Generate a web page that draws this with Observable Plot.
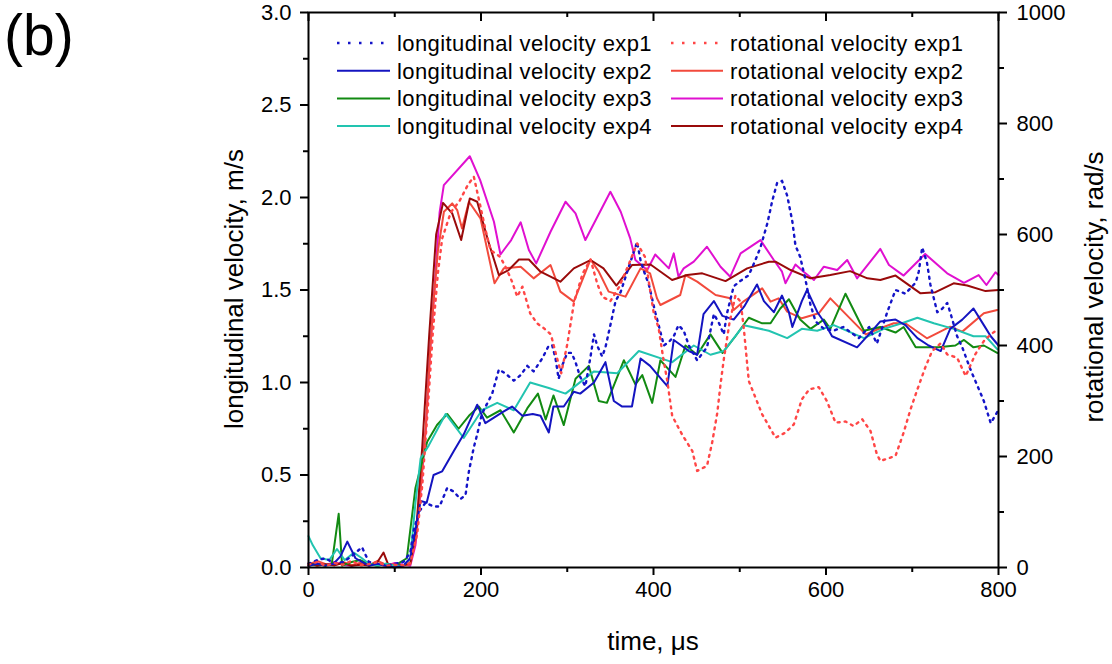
<!DOCTYPE html>
<html><head><meta charset="utf-8">
<script src="https://cdn.jsdelivr.net/npm/d3@7"></script>
<script src="https://cdn.jsdelivr.net/npm/@observablehq/plot@0.6"></script>
<style>
body{margin:0;background:#fff;}
#wrap{position:relative;width:1112px;height:664px;font-family:"Liberation Sans",Arial,sans-serif;color:#000;}
#wrap svg{position:absolute;left:0;top:0;}
.ttl{position:absolute;font-size:26px;white-space:nowrap;line-height:1;}
</style></head><body><div id="wrap"></div>
<script>
// ---- data: [time (µs), value] ----
// longitudinal velocity (m/s)
const long1 = [[0,0.02],[10,0.04],[20,0.05],[30,0.02],[40,0.03],[50,0.06],[62,0.11],[70,0.03],[80,0.02],[90,0.01],[100,0.02],[110,0.03],[118,0.08],[122,0.2],[128,0.3],[135.6,0.35],[145,0.33],[152,0.33],[160.8,0.43],[168.5,0.41],[176,0.37],[182,0.39],[186,0.52],[191.7,0.65],[195.6,0.72],[201,0.83],[213,0.94],[220.7,1.07],[228,1.05],[238,1.01],[246,1.04],[253.6,1.09],[261,1.06],[271,1.13],[278.6,1.20],[282.6,1.20],[286.4,1.13],[290,1.02],[294,1.09],[300,1.16],[305,1.16],[309.6,1.11],[315,1.03],[321,0.98],[327,1.14],[331,1.26],[334.7,1.20],[340.5,1.14],[344.3,1.19],[350,1.31],[356,1.44],[362,1.49],[371,1.62],[381,1.76],[385,1.66],[389,1.60],[394.6,1.53],[402,1.38],[406,1.31],[412,1.20],[418,1.22],[423.5,1.25],[429,1.31],[435,1.28],[441,1.20],[450.6,1.12],[462,1.19],[470,1.37],[476,1.32],[481.5,1.26],[485,1.37],[493,1.52],[501,1.55],[510.5,1.58],[518,1.66],[524,1.73],[532,1.86],[537.6,1.98],[543.4,2.08],[549,2.09],[555,2.01],[561,1.87],[564.6,1.74],[570,1.68],[576,1.56],[582,1.42],[588,1.33],[597.5,1.29],[609,1.28],[620,1.30],[638,1.24],[650,1.30],[659,1.21],[671,1.38],[680.6,1.50],[692,1.48],[704,1.54],[707.6,1.60],[711.5,1.73],[717,1.65],[721,1.53],[729,1.38],[735,1.40],[740.5,1.43],[744,1.38],[752,1.25],[758,1.19],[767.5,1.07],[773,1.01],[783,0.90],[791,0.78],[798.5,0.84]];
const long2 = [[0,0.01],[10,0.02],[20,0.01],[29,0.02],[37,0.06],[45,0.14],[54.5,0.05],[62,0.03],[70,0.01],[80,0.02],[90,0.01],[100,0.0],[110,0.01],[118,0.05],[124,0.2],[130,0.36],[137,0.35],[145,0.50],[155,0.52],[168.5,0.63],[180,0.72],[195.6,0.88],[205,0.78],[215,0.81],[225,0.84],[236,0.87],[248,0.82],[260,0.83],[269,0.82],[278.6,0.73],[284,0.87],[296,0.87],[307.6,0.95],[315,0.94],[331,1.0],[344.3,1.11],[354,0.90],[363.7,0.87],[375,0.87],[385,1.13],[396,1.09],[416,0.98],[423.5,1.23],[441,1.17],[450.6,1.15],[458,1.37],[470,1.44],[480,1.36],[493,1.34],[505,1.41],[520,1.53],[528,1.44],[539.5,1.38],[549,1.47],[557,1.38],[561,1.30],[572,1.44],[578,1.50],[590,1.38],[597.5,1.33],[607,1.25],[636,1.19],[651.6,1.27],[663,1.33],[680.6,1.34],[692,1.31],[706,1.24],[719,1.20],[733,1.17],[744,1.29],[758,1.34],[771,1.40],[783,1.31],[791,1.25],[800,1.20]];
const long3 = [[0,0.01],[10,0.02],[20,0.01],[27,0.02],[35,0.29],[39,0.01],[50,0.03],[60,0.04],[70,0.02],[80,0.01],[90,0.02],[100,0.01],[114,0.05],[124,0.43],[130,0.54],[137.6,0.68],[149,0.77],[160.8,0.83],[174,0.75],[186,0.82],[197.5,0.87],[207,0.81],[222.6,0.85],[238,0.73],[253.6,0.86],[266,0.94],[275,0.80],[284,0.93],[296,0.77],[309.6,1.02],[325,1.09],[336.6,0.90],[346,0.89],[365.6,1.12],[379,0.99],[387,1.04],[398.5,0.89],[408,1.12],[425.5,1.03],[437,1.20],[450.6,1.15],[466,1.26],[480,1.16],[495,1.25],[510.5,1.35],[526,1.32],[535.7,1.32],[547,1.40],[557,1.45],[570,1.34],[582,1.29],[597.5,1.34],[605,1.29],[622.6,1.48],[644,1.28],[663,1.30],[680.6,1.27],[690,1.30],[704,1.19],[730,1.19],[750,1.20],[760,1.23],[771,1.19],[783,1.20],[798.5,1.16]];
const long4 = [[0,0.17],[5,0.12],[14,0.05],[24,0.04],[33,0.10],[42,0.04],[52.5,0.08],[62,0.05],[70,0.02],[80,0.01],[90,0.02],[100,0.01],[110,0.01],[118,0.05],[124,0.35],[130,0.59],[139.5,0.66],[159,0.83],[180,0.70],[201,0.85],[218.8,0.89],[238,0.85],[257,1.0],[278.6,0.97],[298,0.94],[331,1.06],[358,1.05],[383,1.17],[421.7,1.11],[446.7,1.20],[466,1.15],[481.5,1.17],[504.7,1.31],[533.7,1.28],[555,1.24],[572,1.29],[589.8,1.28],[609,1.31],[644,1.24],[667,1.29],[688,1.32],[706,1.35],[725,1.32],[748,1.29],[771,1.25],[785,1.25],[798.5,1.18]];
// rotational velocity (rad/s)
const rot1 = [[0,5],[10,10],[20,3],[30,8],[40,5],[50,12],[60,4],[70,6],[80,10],[90,3],[100,5],[110,4],[118,8],[126,60],[132,150],[138,280],[144,420],[150,530],[155,593],[165,640],[175,660],[185,690],[191.7,704],[198,660],[205,610],[211,572],[222,560],[229,540],[236,515],[242,488],[248,506],[257,458],[265,440],[273,431],[281,420],[288,378],[293,350],[300,402],[308,479],[318,530],[327,555],[334.7,512],[340.5,488],[350,480],[360,505],[371,545],[381,584],[390,560],[400,461],[406,431],[411,380],[416,336],[421.7,273],[433,240],[445,210],[450.6,174],[462,183],[468,225],[474,279],[477.7,330],[481.5,375],[488,440],[495,490],[501,479],[504.7,431],[510.5,336],[526,276],[541.4,234],[553,243],[562.7,258],[572,303],[580.6,321],[591.6,325],[601,300],[611,261],[622.6,263],[632,255],[642,267],[651.6,246],[659,204],[663,192],[680.6,201],[690,243],[698,285],[706,321],[715,360],[723,390],[733,404],[740.5,384],[752,378],[762,345],[773,384],[783,408],[791,420],[800,430]];
const rot2 = [[0,5],[10,12],[20,6],[30,4],[40,10],[50,4],[60,8],[70,3],[80,12],[90,5],[100,6],[110,3],[118,6],[124,48],[130,144],[136,252],[141,390],[145,479],[150,570],[157,641],[166.6,656],[172.4,644],[178,611],[186,659],[199.4,629],[215.7,512],[226.4,539],[246,542],[261,521],[280.6,545],[292,497],[307.6,479],[327,555],[336.6,533],[348,497],[367.5,488],[385,539],[396,530],[404,485],[408,473],[431,491],[437,527],[450.6,515],[472,491],[489,485],[493,464],[505,480],[526,503],[535.7,479],[545,485],[555,461],[572,449],[591.6,458],[605,485],[646,420],[663,431],[678.6,440],[692,440],[717,413],[744,434],[758,425],[783,458],[798.5,464]];
const rot3 = [[0,3],[10,8],[20,4],[30,10],[40,5],[50,3],[60,8],[70,4],[80,6],[90,3],[100,8],[110,5],[118,3],[124,40],[130,140],[136,250],[141,390],[146,500],[152,640],[156.9,689],[187,741],[199,698],[215,623],[222.6,564],[235,590],[246,622],[255.5,572],[264,548],[280.6,605],[298,659],[309.6,638],[321,590],[350,677],[362,641],[373,593],[379,554],[392.7,536],[402,564],[417.8,539],[423.5,566],[429,524],[435,539],[446.7,551],[462,578],[477.7,542],[489,524],[501,566],[524,590],[539.5,554],[549,533],[553,512],[564.6,546],[574,533],[586,518],[597.5,542],[613,536],[624.6,554],[636,521],[663,574],[673,545],[690,526],[715,565],[740.5,530],[760,513],[777,527],[786,509],[796.5,532],[800,527]];
const rot4 = [[0,8],[10,3],[20,6],[30,4],[40,8],[50,3],[60,5],[70,4],[80,10],[87,27],[93,3],[100,5],[110,4],[118,8],[125,70],[132,220],[140,420],[148,600],[156,657],[166.6,638],[177,590],[187,665],[195.6,659],[208,590],[220.7,527],[232,536],[244,555],[255.5,555],[269,533],[280.6,524],[292,515],[307.6,539],[327,554],[342,539],[357,508],[375,545],[396.5,546],[421.6,518],[439,527],[456.5,530],[483.5,516],[508.6,539],[533.7,551],[541.4,551],[559,536],[582,521],[605,527],[628,534],[648,521],[663,518],[680.6,526],[709.6,494],[727,496],[748,512],[763.7,508],[785,498],[800,500]];

const seriesNames = ["longitudinal velocity exp1","longitudinal velocity exp2","longitudinal velocity exp3","longitudinal velocity exp4","rotational velocity exp1","rotational velocity exp2","rotational velocity exp3","rotational velocity exp4"];
const seriesColors = ["#1414c8","#1414c0","#128a12","#22c4b0","#ff4646","#f24a3c","#e010d0","#990a0a"];
const seriesDotted = [true,false,false,false,true,false,false,false];
const seriesData = [long1,long2,long3,long4,rot1,rot2,rot3,rot4];
const seriesIsRot = [false,false,false,false,true,true,true,true];

// axes ticks
const yMajor = [0,0.5,1,1.5,2,2.5,3];
const yMinor = [0.25,0.75,1.25,1.75,2.25,2.75];
const rMajor = [0,200,400,600,800,1000];
const rMinor = [100,300,500,700,900];
const xMajor = [0,200,400,600,800];
const xMinor = [100,300,500,700];
const rotMax = 1000, longMax = 3;
const k = longMax / rotMax; // rad/s -> left-axis units

const W = 1112, H = 664;
const mL = 308, mR = 114, mT = 12, mB = 97;

const rows = [];
seriesData.forEach((arr, i) => arr.forEach(([t, v]) => rows.push({t, v: seriesIsRot[i] ? v * k : v, s: i})));

const lineMarks = seriesNames.map((name, i) => Plot.line(rows.filter(d => d.s === i), {
  x: "t", y: "v", stroke: seriesColors[i], strokeWidth: seriesDotted[i] ? 2.4 : 2,
  strokeDasharray: seriesDotted[i] ? "2,5" : null, strokeLinejoin: "round"
}));
const order = [6,5,7,2,3,1,0,4];

const chart = Plot.plot({
  width: W, height: H, marginLeft: mL, marginRight: mR, marginTop: mT, marginBottom: mB,
  x: {domain: [0, 800]},
  y: {domain: [0, longMax]},
  style: {fontFamily: "'Liberation Sans', Arial, sans-serif", fontSize: "22px", color: "#000", background: "#fff", overflow: "visible"},
  marks: [
    ...order.map(i => lineMarks[i]),
    Plot.axisY({anchor: "left", ticks: yMajor, tickSize: 8, tickPadding: 9, tickFormat: d => d.toFixed(1), label: null, strokeWidth: 2}),
    Plot.axisY({anchor: "left", ticks: yMinor, tickSize: 5, tickFormat: () => "", label: null, strokeWidth: 2}),
    Plot.axisY({anchor: "right", ticks: rMajor.map(r => r * k), tickSize: 8, tickPadding: 10, tickFormat: d => String(Math.round(d / k)), label: null, strokeWidth: 2}),
    Plot.axisY({anchor: "right", ticks: rMinor.map(r => r * k), tickSize: 5, tickFormat: () => "", label: null, strokeWidth: 2}),
    Plot.axisX({anchor: "bottom", ticks: xMajor, tickSize: 8, tickPadding: 6, tickFormat: d => String(d), label: null, strokeWidth: 2}),
    Plot.axisX({anchor: "bottom", ticks: xMinor, tickSize: 5, tickFormat: () => "", label: null, strokeWidth: 2}),
    Plot.axisX({anchor: "top", ticks: xMajor, tickSize: -8, tickFormat: () => "", label: null, strokeWidth: 2}),
    Plot.axisX({anchor: "top", ticks: xMinor, tickSize: -4, tickFormat: () => "", label: null, strokeWidth: 2}),
    Plot.frame({stroke: "#000", strokeWidth: 2})
  ]
});
const wrap = document.getElementById("wrap");
wrap.appendChild(chart);

// legend overlay (two columns inside the plot frame)
const ns = "http://www.w3.org/2000/svg";
const leg = document.createElementNS(ns, "svg");
leg.setAttribute("width", W); leg.setAttribute("height", H);
leg.style.pointerEvents = "none";
const colX = [[337, 390, 397], [671, 723, 730]];
const rowY0 = 43, rowDy = 27.7;
seriesNames.forEach((name, i) => {
  const c = i < 4 ? 0 : 1, r = i % 4;
  const y = rowY0 + r * rowDy;
  const ln = document.createElementNS(ns, "line");
  ln.setAttribute("x1", colX[c][0]); ln.setAttribute("x2", colX[c][1]);
  ln.setAttribute("y1", y); ln.setAttribute("y2", y);
  ln.setAttribute("stroke", seriesColors[i]); ln.setAttribute("stroke-width", seriesDotted[i] ? 2.4 : 2);
  if (seriesDotted[i]) ln.setAttribute("stroke-dasharray", "2.5,8.5");
  leg.appendChild(ln);
  const tx = document.createElementNS(ns, "text");
  tx.setAttribute("x", colX[c][2]); tx.setAttribute("y", y + 8);
  tx.setAttribute("font-size", "22"); tx.setAttribute("font-family", "'Liberation Sans', Arial, sans-serif");
  tx.setAttribute("letter-spacing", "0.4");
  tx.textContent = name;
  leg.appendChild(tx);
});
// panel tag
const tag = document.createElementNS(ns, "text");
tag.setAttribute("x", 4); tag.setAttribute("y", 55);
tag.setAttribute("font-size", "57"); tag.setAttribute("font-family", "'Liberation Sans', Arial, sans-serif");
tag.textContent = "(b)";
leg.appendChild(tag);
wrap.appendChild(leg);

// axis titles
function title(text, x, y, rot) {
  const d = document.createElement("div");
  d.className = "ttl"; d.textContent = text;
  d.style.left = x + "px"; d.style.top = y + "px";
  d.style.transform = `translate(-50%,-50%) rotate(${rot}deg)`;
  wrap.appendChild(d);
}
title("longitudinal velocity, m/s", 234, 289, -90);
title("rotational velocity, rad/s", 1094, 287, -90);
title("time, \u03bcs", 653, 641, 0);
</script>
</body></html>
